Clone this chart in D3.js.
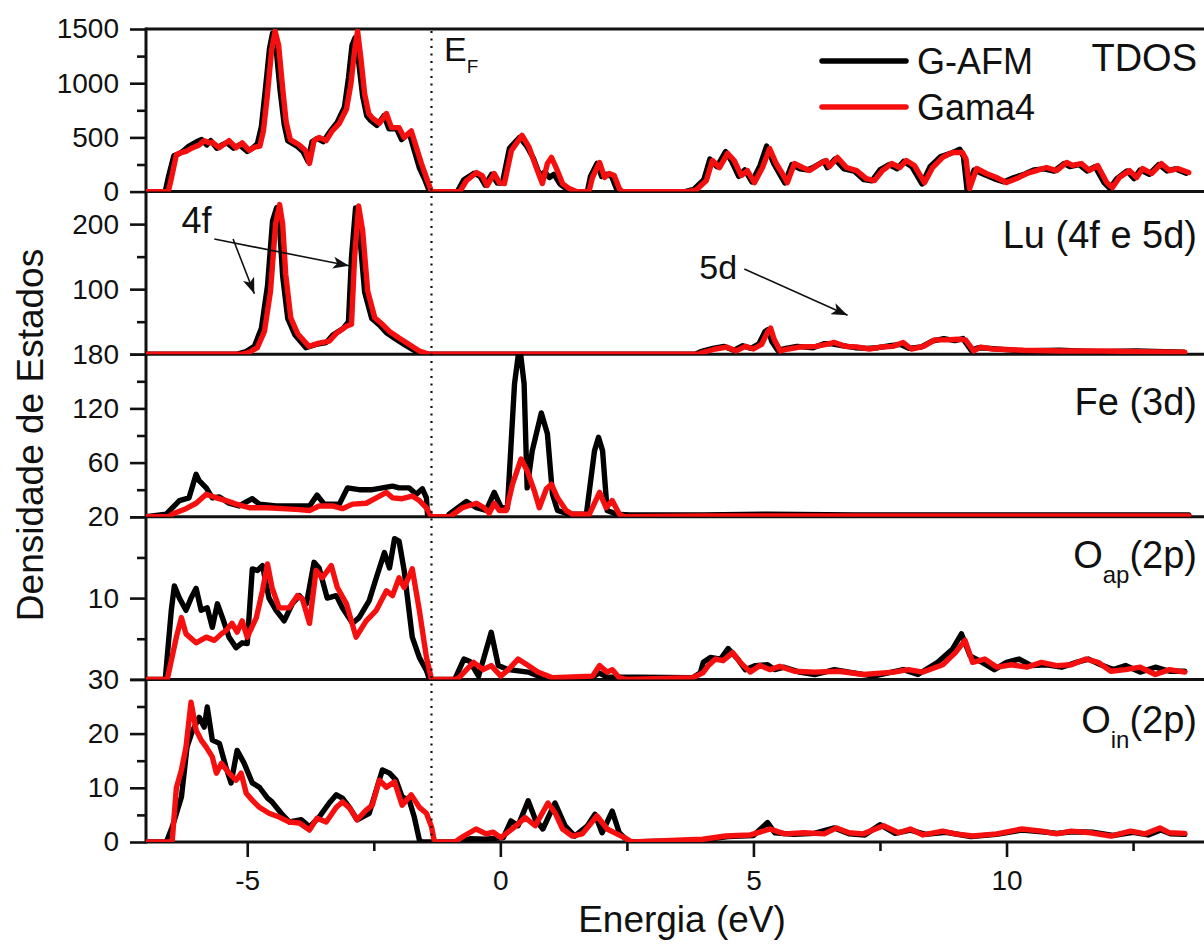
<!DOCTYPE html>
<html><head><meta charset="utf-8">
<script src="https://cdn.jsdelivr.net/npm/d3@7"></script>
<style>body{margin:0;background:#fff}svg{display:block}text{font-family:"Liberation Sans",Arial,sans-serif;fill:#111}</style>
</head><body><svg id="chart" width="1204" height="944"></svg>
<script>
// ---------- DATA ----------
const energyDomain = [-7, 14];
const xMajorTicks = [-5, 0, 5, 10];
const xMinorTicks = [-2.5, 2.5, 7.5, 12.5];
const fermiEnergy = -1.36;
const seriesNames = ["G-AFM", "Gama4"];
const panelLabels = ["TDOS", "Lu (4f e 5d)", "Fe (3d)", "O|ap|(2p)", "O|in|(2p)"];
const panelDomains = [[0,1500],[0,250],[0,180],[0,20],[0,30]];
const panelMajorTicks = [[0,500,1000,1500],[0,100,200],[0,60,120,180],[0,10,20],[0,10,20,30]];
const panelTickLabels = [[0,500,1000,1500],[100,200],[60,120,180],[10,20],[0,10,20,30]];
const panelMinorTicks = [[250,750,1250],[50,150],[30,90,150],[5,15],[5,15,25]];

const tdosB = [[-7,0],[-6.62,0],[-6.55,150],[-6.45,330],[-6.35,350],[-6.25,380],[-6.15,420],[-6.0,460],[-5.9,480],[-5.8,430],[-5.72,470],[-5.6,400],[-5.5,430],[-5.4,450],[-5.27,400],[-5.15,430],[-5.0,370],[-4.9,400],[-4.8,440],[-4.72,600],[-4.64,950],[-4.56,1320],[-4.5,1460],[-4.43,1320],[-4.35,930],[-4.27,620],[-4.2,470],[-4.02,420],[-3.9,370],[-3.8,280],[-3.72,460],[-3.62,490],[-3.5,460],[-3.37,550],[-3.22,640],[-3.08,780],[-3.0,1050],[-2.93,1350],[-2.87,1420],[-2.8,1200],[-2.72,880],[-2.64,700],[-2.57,660],[-2.44,610],[-2.3,700],[-2.2,580],[-2.05,580],[-1.95,480],[-1.8,540],[-1.7,380],[-1.6,220],[-1.5,120],[-1.4,0],[-0.85,0],[-0.72,110],[-0.52,170],[-0.4,140],[-0.3,60],[-0.17,160],[-0.06,80],[0.04,80],[0.18,400],[0.38,500],[0.52,420],[0.66,300],[0.78,150],[0.88,180],[0.97,130],[1.06,160],[1.18,70],[1.32,20],[1.45,0],[1.72,0],[1.78,140],[1.91,260],[2.0,140],[2.1,160],[2.2,140],[2.3,20],[2.37,0],[3.65,0],[3.82,20],[4.02,110],[4.14,300],[4.28,230],[4.45,370],[4.57,280],[4.71,140],[4.83,200],[4.97,90],[5.13,240],[5.26,420],[5.4,260],[5.52,160],[5.62,80],[5.76,250],[5.92,210],[6.06,200],[6.21,230],[6.39,280],[6.46,220],[6.61,300],[6.79,210],[6.99,190],[7.18,110],[7.34,100],[7.5,200],[7.68,250],[7.84,210],[7.97,280],[8.13,230],[8.33,70],[8.49,230],[8.69,320],[8.88,350],[9.08,390],[9.15,320],[9.22,20],[9.36,200],[9.55,160],[9.75,120],[9.95,90],[10.15,130],[10.35,160],[10.54,200],[10.74,210],[10.94,190],[11.14,260],[11.25,230],[11.43,250],[11.59,190],[11.75,230],[11.93,80],[12.04,30],[12.18,120],[12.38,190],[12.52,120],[12.64,200],[12.82,160],[13.01,250],[13.17,190],[13.33,210],[13.55,170]];
const tdosR = [[-7,0],[-6.56,0],[-6.5,120],[-6.4,340],[-6.3,360],[-6.21,370],[-6.1,400],[-5.95,430],[-5.85,470],[-5.75,450],[-5.69,455],[-5.55,405],[-5.45,440],[-5.36,470],[-5.22,405],[-5.1,450],[-4.96,380],[-4.85,410],[-4.75,420],[-4.68,560],[-4.6,900],[-4.52,1300],[-4.45,1480],[-4.38,1350],[-4.3,950],[-4.23,640],[-4.15,480],[-3.97,430],[-3.85,380],[-3.77,260],[-3.68,470],[-3.58,500],[-3.44,470],[-3.32,560],[-3.18,630],[-3.04,760],[-2.95,1000],[-2.88,1300],[-2.82,1480],[-2.76,1250],[-2.68,900],[-2.6,720],[-2.53,680],[-2.39,630],[-2.25,720],[-2.15,590],[-2.0,590],[-1.9,500],[-1.76,560],[-1.66,410],[-1.56,260],[-1.46,130],[-1.36,0],[-0.8,0],[-0.67,100],[-0.47,176],[-0.36,148],[-0.26,56],[-0.12,167],[-0.02,83],[0.08,74],[0.22,380],[0.43,519],[0.57,407],[0.71,222],[0.83,74],[0.93,259],[1.01,315],[1.11,213],[1.23,74],[1.36,28],[1.5,0],[1.75,0],[1.82,130],[1.96,269],[2.06,130],[2.15,167],[2.25,148],[2.35,28],[2.41,0],[3.7,0],[3.87,15],[4.07,102],[4.19,287],[4.33,222],[4.49,352],[4.62,287],[4.76,148],[4.88,194],[5.02,83],[5.18,222],[5.32,398],[5.45,259],[5.57,167],[5.67,83],[5.81,259],[5.97,222],[6.11,194],[6.26,241],[6.44,287],[6.5,230],[6.66,315],[6.84,222],[7.04,194],[7.23,120],[7.39,102],[7.55,194],[7.73,259],[7.89,222],[8.02,287],[8.18,241],[8.38,83],[8.54,222],[8.74,315],[8.93,361],[9.13,361],[9.2,300],[9.27,28],[9.41,213],[9.6,167],[9.8,130],[10.0,83],[10.2,120],[10.4,167],[10.59,194],[10.79,222],[10.99,194],[11.19,269],[11.3,241],[11.48,259],[11.64,194],[11.8,241],[11.98,83],[12.09,37],[12.23,130],[12.43,194],[12.57,130],[12.69,213],[12.87,167],[13.06,259],[13.22,194],[13.38,213],[13.6,176]];

const luB = [[-7,0],[-5.2,0],[-5.02,4],[-4.86,12],[-4.72,40],[-4.6,105],[-4.5,205],[-4.42,225],[-4.36,195],[-4.3,120],[-4.2,55],[-4.06,30],[-3.84,10],[-3.64,15],[-3.44,18],[-3.3,30],[-3.1,40],[-3.0,50],[-2.94,150],[-2.86,225],[-2.78,185],[-2.68,95],[-2.54,55],[-2.39,45],[-2.25,33],[-2.06,23],[-1.86,13],[-1.66,4],[-1.45,0],[3.85,0],[3.96,4],[4.2,9],[4.42,12],[4.61,6],[4.79,13],[4.95,9],[5.11,16],[5.23,35],[5.29,38],[5.36,20],[5.48,6],[5.64,9],[5.86,12],[6.18,10],[6.39,16],[6.55,16],[6.77,13],[7.01,10],[7.24,9],[7.46,10],[7.7,13],[7.91,15],[8.07,9],[8.31,11],[8.53,20],[8.76,24],[8.98,21],[9.14,24],[9.3,6],[9.44,10],[9.67,9],[10.3,5],[11.04,6],[11.8,4],[12.56,5],[13.5,3]];
const luR = [[-7,0],[-5.1,0],[-4.96,3],[-4.8,10],[-4.66,35],[-4.54,97],[-4.44,200],[-4.36,230],[-4.3,200],[-4.24,123],[-4.14,56],[-4.0,31],[-3.78,12],[-3.58,17],[-3.38,20],[-3.24,32],[-3.04,43],[-2.94,46],[-2.88,148],[-2.8,228],[-2.72,190],[-2.62,97],[-2.48,56],[-2.33,46],[-2.19,35],[-2.0,25],[-1.8,15],[-1.6,5],[-1.4,0],[3.9,0],[4.01,3],[4.25,8],[4.47,11],[4.66,5],[4.84,12],[5.0,8],[5.16,15],[5.28,34],[5.34,40],[5.41,23],[5.53,5],[5.69,8],[5.91,11],[6.23,12],[6.44,15],[6.6,18],[6.82,12],[7.06,11],[7.29,8],[7.51,11],[7.75,12],[7.96,18],[8.12,8],[8.36,12],[8.58,22],[8.81,22],[9.03,23],[9.19,22],[9.35,5],[9.49,11],[9.72,8],[10.34,6],[11.09,5],[11.86,5],[12.61,4],[13.52,3]];

const feB = [[-7,0],[-6.6,3],[-6.48,10],[-6.34,18],[-6.15,21],[-6.01,47],[-5.95,40],[-5.81,32],[-5.69,21],[-5.55,22],[-5.36,15],[-5.16,12],[-4.9,20],[-4.76,14],[-4.43,12],[-3.97,12],[-3.77,12],[-3.62,24],[-3.48,14],[-3.32,14],[-3.18,14],[-3.02,32],[-2.79,30],[-2.53,30],[-2.33,32],[-2.13,34],[-2.0,32],[-1.8,32],[-1.66,25],[-1.54,31],[-1.46,21],[-1.44,3],[-1.4,0],[-1.05,0],[-1.01,3],[-0.67,17],[-0.47,10],[-0.28,7],[-0.12,27],[0.02,10],[0.14,10],[0.28,147],[0.38,190],[0.47,147],[0.53,32],[0.63,73],[0.81,115],[0.93,92],[1.03,25],[1.13,7],[1.36,3],[1.7,3],[1.86,73],[1.94,88],[2.02,73],[2.11,7],[2.29,3],[2.55,2],[4.0,2],[5.3,3],[7.0,2],[10.0,2],[13.6,2]];
const feR = [[-7,0],[-6.55,0],[-6.48,3],[-6.21,9],[-6.01,15],[-5.81,25],[-5.61,21],[-5.42,18],[-5.22,14],[-4.96,10],[-4.62,10],[-4.31,9],[-3.97,8],[-3.77,7],[-3.58,12],[-3.32,12],[-3.12,9],[-2.92,14],[-2.65,15],[-2.45,21],[-2.25,27],[-2.13,21],[-1.94,20],[-1.74,23],[-1.6,18],[-1.46,10],[-1.36,0],[-1.0,0],[-0.95,2],[-0.75,10],[-0.47,15],[-0.32,10],[-0.22,4],[-0.12,15],[-0.02,7],[0.12,7],[0.24,36],[0.41,64],[0.53,51],[0.67,29],[0.77,10],[0.91,31],[1.01,36],[1.13,21],[1.3,7],[1.42,3],[1.76,3],[1.96,27],[2.09,10],[2.21,18],[2.35,3],[2.45,0],[4.0,1],[13.6,1]];

const oapB = [[-7,0],[-6.62,0],[-6.5,8.5],[-6.44,11.5],[-6.34,10],[-6.21,8.5],[-6.11,10],[-6.01,11.2],[-5.91,8.5],[-5.79,8.8],[-5.69,6.4],[-5.59,9.3],[-5.49,7.6],[-5.36,5.2],[-5.22,3.9],[-5.1,4.5],[-5.0,4.4],[-4.9,13.6],[-4.8,13.4],[-4.7,14],[-4.57,10],[-4.43,8.5],[-4.27,7.2],[-4.11,9.3],[-3.97,10.3],[-3.83,9.3],[-3.68,14.4],[-3.58,13.7],[-3.42,10],[-3.24,10.3],[-3.12,8.8],[-2.92,6.9],[-2.79,7.6],[-2.59,9.7],[-2.45,12.5],[-2.29,15.6],[-2.19,13.7],[-2.09,17.3],[-2.0,17],[-1.9,13.4],[-1.74,5.2],[-1.6,2.7],[-1.46,1.1],[-1.4,0],[-0.9,0],[-0.72,2.5],[-0.6,2.2],[-0.43,0.4],[-0.18,5.8],[-0.04,1.7],[0.16,1.2],[0.55,0.9],[0.84,0.2],[1.8,0.2],[1.95,0.8],[2.1,0.3],[3.8,0.2],[3.95,0.8],[4.01,2.1],[4.15,2.7],[4.35,2.5],[4.5,3.8],[4.69,2.5],[4.84,1.2],[5.04,1.7],[5.28,1.8],[5.42,1.2],[5.61,1.5],[5.91,0.9],[6.21,0.6],[6.6,1.2],[6.89,0.9],[7.37,0.4],[7.96,1.2],[8.25,0.6],[8.64,2.1],[8.93,3.7],[9.11,5.6],[9.28,2.9],[9.52,2.1],[9.76,1.2],[10.0,2.1],[10.25,2.5],[10.49,1.7],[10.79,1.8],[11.09,1.5],[11.38,2.1],[11.62,2.5],[11.86,1.8],[12.11,1.2],[12.35,1.7],[12.64,0.9],[12.94,1.5],[13.22,1.0],[13.52,1.0]];
const oapR = [[-7,0],[-6.58,0],[-6.4,5.2],[-6.3,7.6],[-6.21,5.6],[-6.01,4.5],[-5.81,5.2],[-5.65,4.8],[-5.51,5.6],[-5.42,6],[-5.3,6.9],[-5.2,5.8],[-5.1,7.2],[-5.0,5.2],[-4.82,7.6],[-4.7,10.9],[-4.6,14.2],[-4.51,11.3],[-4.37,8.8],[-4.17,8.8],[-4.01,10.3],[-3.91,9.9],[-3.77,6.9],[-3.64,13.4],[-3.52,12.5],[-3.34,14],[-3.22,11.3],[-3.04,9.3],[-2.85,5.2],[-2.65,7.2],[-2.45,8.5],[-2.25,10.9],[-2.13,10.3],[-2.0,12.5],[-1.9,11.3],[-1.74,13.6],[-1.6,8.5],[-1.46,2.7],[-1.36,0],[-0.9,0],[-0.82,0.2],[-0.53,2.1],[-0.34,1.2],[-0.18,1.7],[0.01,0.4],[0.16,1.2],[0.35,2.5],[0.55,1.7],[0.74,0.9],[1.03,0.2],[1.82,0.4],[1.96,1.7],[2.11,0.9],[2.21,1.2],[2.35,0.2],[2.5,0],[3.8,0.2],[4.0,0.8],[4.11,1.7],[4.25,2.5],[4.4,2.3],[4.59,3.3],[4.74,2.1],[4.94,0.9],[5.13,1.7],[5.33,1.2],[5.52,1.6],[5.81,1.0],[6.21,0.9],[6.69,1.0],[7.17,0.6],[7.77,0.9],[8.06,1.2],[8.35,0.9],[8.74,1.8],[8.99,3.3],[9.18,4.8],[9.33,2.1],[9.57,2.5],[9.81,1.5],[10.1,1.8],[10.4,1.5],[10.69,2.1],[10.99,1.7],[11.28,1.8],[11.57,2.5],[11.81,2.1],[12.06,1.0],[12.35,1.2],[12.64,1.5],[12.94,0.6],[13.22,1.2],[13.52,0.9]];

const oinB = [[-7,0],[-6.62,0],[-6.58,0.4],[-6.48,2.8],[-6.3,8.3],[-6.19,17.5],[-6.09,20.3],[-5.95,23],[-5.85,21.2],[-5.79,24.9],[-5.69,18.8],[-5.55,18.2],[-5.42,13.8],[-5.32,10.9],[-5.2,16.9],[-5.06,14.5],[-4.9,10.9],[-4.76,10.1],[-4.6,8.1],[-4.51,7.4],[-4.33,5.3],[-4.17,3.7],[-3.93,4.1],[-3.77,2.8],[-3.58,4.6],[-3.38,7.2],[-3.24,8.7],[-3.12,8.1],[-2.98,6.4],[-2.83,4.1],[-2.59,5.3],[-2.45,9.6],[-2.33,13.3],[-2.19,12.7],[-2.06,11.4],[-1.94,8.3],[-1.8,7.7],[-1.7,4.6],[-1.6,0.4],[-1.55,0],[-0.8,0],[-0.6,0.6],[-0.3,0.5],[0.06,0.8],[0.21,3.9],[0.35,3.0],[0.55,7.6],[0.69,4.2],[0.84,2.4],[1.08,7.2],[1.28,3.0],[1.47,1.1],[1.72,3.0],[1.87,5.1],[2.01,1.7],[2.21,5.7],[2.35,1.7],[2.45,0.8],[2.55,0],[3.9,0.3],[4.5,1.0],[5.0,1.2],[5.28,3.6],[5.42,1.7],[5.8,1.4],[6.2,1.6],[6.6,2.6],[6.9,1.5],[7.2,1.3],[7.5,3.2],[7.8,1.6],[8.1,2.2],[8.4,1.4],[8.8,1.8],[9.3,1.0],[9.8,1.4],[10.3,2.2],[10.7,1.9],[11.0,1.6],[11.3,1.9],[11.7,1.8],[12.1,1.2],[12.5,1.8],[12.8,1.3],[13.05,2.2],[13.25,1.5],[13.52,1.4]];
const oinR = [[-7,0],[-6.55,0],[-6.48,0.4],[-6.4,10],[-6.3,13.3],[-6.21,17.5],[-6.11,25.8],[-6.01,20.6],[-5.91,18.8],[-5.81,17.5],[-5.69,15.7],[-5.61,12.7],[-5.51,14.5],[-5.36,12.7],[-5.22,11.4],[-5.12,12.7],[-5.02,9.0],[-4.9,7.7],[-4.76,6.4],[-4.57,5.3],[-4.37,4.6],[-4.17,3.7],[-3.97,3.5],[-3.77,2.2],[-3.62,4.4],[-3.44,3.7],[-3.24,6.4],[-3.12,7.4],[-2.98,6.3],[-2.83,4.1],[-2.65,5.9],[-2.53,6.8],[-2.39,11.4],[-2.25,10.1],[-2.09,11.1],[-1.94,6.8],[-1.76,8.7],[-1.6,6.4],[-1.46,5.3],[-1.36,2.8],[-1.3,0],[-0.9,0],[-0.72,1.1],[-0.48,2.4],[-0.28,1.5],[-0.14,1.8],[0.01,0.8],[0.26,2.6],[0.49,4.5],[0.69,3.0],[0.94,7.2],[1.08,5.4],[1.23,2.4],[1.42,1.1],[1.62,1.5],[1.91,4.8],[2.11,2.4],[2.3,1.5],[2.45,0.8],[2.6,0],[4.0,0.5],[4.45,1.1],[4.94,1.3],[5.33,2.4],[5.61,1.5],[6.01,1.7],[6.4,1.5],[6.64,2.6],[6.89,1.7],[7.17,1.5],[7.57,3.0],[7.87,1.7],[8.1,2.4],[8.35,1.3],[8.74,2.0],[8.99,1.5],[9.33,1.1],[9.81,1.5],[10.3,2.4],[10.69,2.0],[10.99,1.5],[11.28,2.0],[11.66,1.7],[12.06,1.1],[12.45,2.0],[12.74,1.5],[13.03,2.6],[13.22,1.7],[13.52,1.6]];

const blackSeries = [tdosB, luB, feB, oapB, oinB];
const redSeries = [tdosR, luR, feR, oapR, oinR];

// annotations in the Lu panel (energy, Lu DOS)
const annot4fText = [-6.3, 186];
const annot4fArrows = [[[-5.28,177],[-4.86,93]], [[-5.65,177],[-2.99,136]]];
const annot5dText = [3.93, 116];
const annot5dArrow = [[4.82,131],[6.86,60]];

// ---------- DRAW ----------
const svg = d3.select("#chart");
const plotLeft = 146, plotRight = 1209, plotTop = 29, plotBottom = 842;
const colors = ["#000000", "#f50f0f"];
const x = d3.scaleLinear().domain(energyDomain).range([plotLeft, plotRight]);
const panelH = (plotBottom - plotTop) / panelLabels.length;

const defs = svg.append("defs");
defs.append("marker").attr("id","arrowhead").attr("viewBox","0 0 16 12").attr("refX",16).attr("refY",6)
  .attr("markerWidth",16).attr("markerHeight",12).attr("markerUnits","userSpaceOnUse").attr("orient","auto")
  .append("path").attr("d","M0,0 L16,6 L0,12 L4,6 Z").attr("fill","#111");

const yScales = [];
panelLabels.forEach((label, i) => {
  const top = plotTop + i * panelH, bottom = top + panelH;
  const y = d3.scaleLinear().domain(panelDomains[i]).range([bottom, top]);
  yScales.push(y);
  defs.append("clipPath").attr("id","clip"+i).append("rect")
    .attr("x", plotLeft).attr("y", top).attr("width", plotRight - plotLeft).attr("height", panelH);

  const labs = panelTickLabels[i];
  const gMaj = svg.append("g").attr("transform",`translate(${plotLeft},0)`)
    .call(d3.axisLeft(y).tickValues(panelMajorTicks[i]).tickSize(16).tickPadding(11)
      .tickFormat(d => labs.includes(d) ? String(d) : ""));
  gMaj.select(".domain").remove();
  gMaj.selectAll(".tick line").attr("stroke","#111").attr("stroke-width",2.6);
  gMaj.selectAll(".tick text").attr("font-size",28).attr("fill","#111");
  const gMin = svg.append("g").attr("transform",`translate(${plotLeft},0)`)
    .call(d3.axisLeft(y).tickValues(panelMinorTicks[i]).tickSize(9).tickFormat(""));
  gMin.select(".domain").remove();
  gMin.selectAll(".tick line").attr("stroke","#111").attr("stroke-width",2.6);

  svg.append("line").attr("x1",plotLeft).attr("x2",plotRight).attr("y1",top).attr("y2",top)
    .attr("stroke","#111").attr("stroke-width",3);
});
svg.append("line").attr("x1",plotLeft).attr("x2",plotRight).attr("y1",plotBottom).attr("y2",plotBottom)
  .attr("stroke","#111").attr("stroke-width",3);
svg.append("line").attr("x1",plotLeft).attr("x2",plotLeft).attr("y1",plotTop-1.5).attr("y2",plotBottom+1.5)
  .attr("stroke","#111").attr("stroke-width",3);

const gx = svg.append("g").attr("transform",`translate(0,${plotBottom})`)
  .call(d3.axisBottom(x).tickValues(xMajorTicks).tickSize(15).tickPadding(13).tickFormat(d => String(d)));
gx.select(".domain").remove();
gx.selectAll(".tick line").attr("stroke","#111").attr("stroke-width",2.6);
gx.selectAll(".tick text").attr("font-size",28).attr("fill","#111");
const gxm = svg.append("g").attr("transform",`translate(0,${plotBottom})`)
  .call(d3.axisBottom(x).tickValues(xMinorTicks).tickSize(9).tickFormat(""));
gxm.select(".domain").remove();
gxm.selectAll(".tick line").attr("stroke","#111").attr("stroke-width",2.6);

panelLabels.forEach((label, i) => {
  const y = yScales[i];
  const line = d3.line().x(d => x(d[0])).y(d => y(d[1]));
  const g = svg.append("g").attr("clip-path",`url(#clip${i})`);
  [blackSeries[i], redSeries[i]].forEach((s, k) => {
    g.append("path").datum(s).attr("d", line).attr("fill","none")
      .attr("stroke", colors[k]).attr("stroke-width", 5.4).attr("stroke-linejoin","round").attr("stroke-linecap","round");
  });
});

svg.append("line").attr("x1",x(fermiEnergy)).attr("x2",x(fermiEnergy)).attr("y1",plotTop+2).attr("y2",plotBottom+6)
  .attr("stroke","#111").attr("stroke-width",2.2).attr("stroke-dasharray","2,5.5");
const ef = svg.append("text").attr("x",444).attr("y",61).attr("font-size",34);
ef.append("tspan").text("E");
ef.append("tspan").attr("font-size",19).attr("dy",12).text("F");

const labelY = [71, 248, 415, 568, 733];
panelLabels.forEach((label, i) => {
  const t = svg.append("text").attr("x",1197).attr("y",labelY[i]).attr("text-anchor","end").attr("font-size",38);
  const parts = label.split("|");
  if (parts.length === 1) t.text(label);
  else {
    t.append("tspan").text(parts[0]);
    t.append("tspan").attr("font-size",24).attr("dy",15).text(parts[1]);
    t.append("tspan").attr("dy",-15).text(parts[2]);
  }
});

seriesNames.forEach((n, k) => {
  const ly = 61 + k * 46;
  svg.append("line").attr("x1",822).attr("x2",906).attr("y1",ly).attr("y2",ly)
    .attr("stroke",colors[k]).attr("stroke-width",5.5).attr("stroke-linecap","round");
  svg.append("text").attr("x",917).attr("y",ly+13).attr("font-size",36).text(n);
});

const yLu = yScales[1];
svg.append("text").attr("x",x(annot4fText[0])).attr("y",yLu(annot4fText[1])).attr("font-size",36).text("4f");
annot4fArrows.forEach(a => {
  svg.append("line").attr("x1",x(a[0][0])).attr("y1",yLu(a[0][1])).attr("x2",x(a[1][0])).attr("y2",yLu(a[1][1]))
    .attr("stroke","#111").attr("stroke-width",1.6).attr("marker-end","url(#arrowhead)");
});
svg.append("text").attr("x",x(annot5dText[0])).attr("y",yLu(annot5dText[1])).attr("font-size",34).text("5d");
svg.append("line").attr("x1",x(annot5dArrow[0][0])).attr("y1",yLu(annot5dArrow[0][1])).attr("x2",x(annot5dArrow[1][0])).attr("y2",yLu(annot5dArrow[1][1]))
  .attr("stroke","#111").attr("stroke-width",1.6).attr("marker-end","url(#arrowhead)");

svg.append("text").attr("transform","translate(43,435) rotate(-90)").attr("text-anchor","middle").attr("font-size",37).text("Densidade de Estados");
svg.append("text").attr("x",682).attr("y",932).attr("text-anchor","middle").attr("font-size",37).text("Energia (eV)");
</script></body></html>
